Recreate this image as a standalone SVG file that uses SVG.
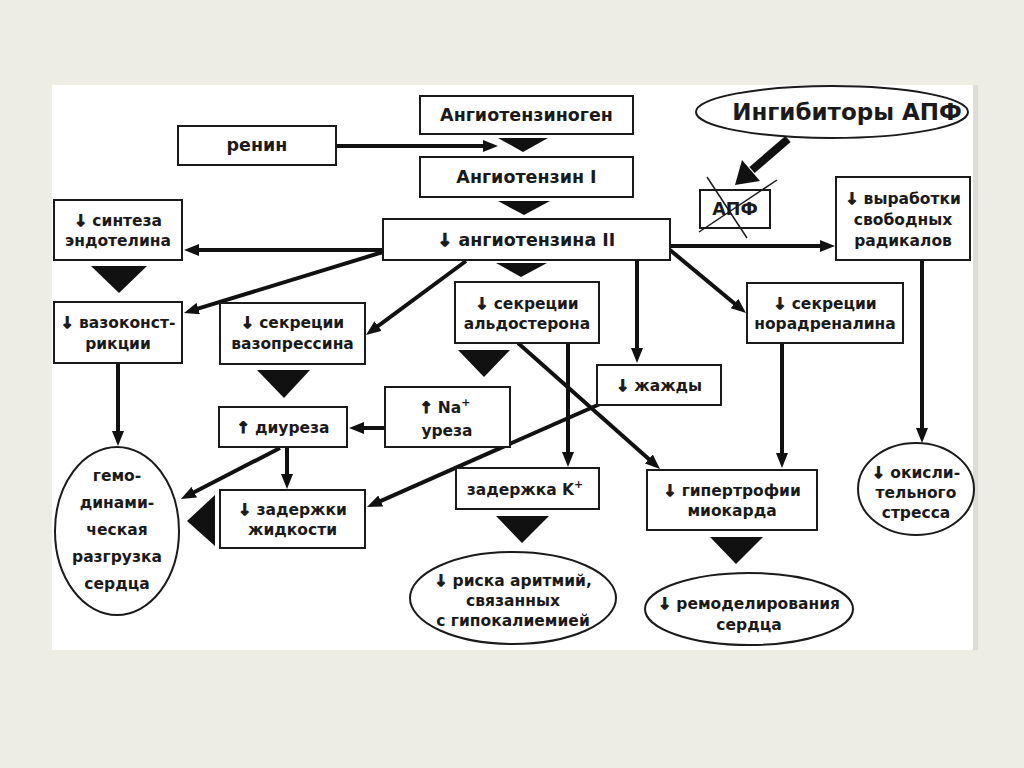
<svg xmlns="http://www.w3.org/2000/svg" width="1024" height="768" viewBox="0 0 1024 768">
<style>
.bx{fill:#fff;stroke:#1a1a1a;stroke-width:2}
.t{font-family:"DejaVu Sans","Liberation Sans",sans-serif;font-weight:bold;font-size:15.5px;fill:#1a1a1a;text-anchor:middle}
.tl{font-size:17.5px}
.big{font-size:23px}
.ar{stroke:#1a1a1a;stroke-width:1.2px}
.c{stroke:#111;stroke-width:4;fill:none;marker-end:url(#ah)}
.tri{fill:#111}
.sup{font-size:11px}
</style>
<defs>
<marker id="ah" markerUnits="userSpaceOnUse" markerWidth="15" markerHeight="12" viewBox="0 0 15 12" refX="9" refY="6" orient="auto">
<path d="M0,0 L15,6 L0,12 z" fill="#111"/>
</marker>
</defs>
<rect x="0" y="0" width="1024" height="768" fill="#eeede5"/>
<rect x="52" y="85" width="922" height="565" fill="#fff"/>
<rect x="973" y="85" width="5" height="565" fill="#dddcd6"/>

<g id="connectors">
<line class="c" x1="336" y1="146" x2="492" y2="146"/>
<line class="c" x1="383" y1="250" x2="190" y2="250"/>
<line class="c" x1="383" y1="252" x2="189.7" y2="311.2"/>
<line class="c" x1="466" y1="261" x2="370.8" y2="331.4"/>
<line class="c" x1="637" y1="260" x2="637" y2="357"/>
<line class="c" x1="670" y1="250" x2="741.4" y2="309.2"/>
<line class="c" x1="670" y1="246" x2="829" y2="246"/>
<line class="c" x1="922" y1="260" x2="922" y2="437"/>
<line class="c" x1="782" y1="343" x2="782" y2="462"/>
<line class="c" x1="568" y1="343" x2="568" y2="461"/>
<line class="c" x1="518" y1="343" x2="655.5" y2="465"/>
<line class="c" x1="600" y1="404" x2="372.5" y2="504.6"/>
<line class="c" x1="385" y1="428" x2="355" y2="428"/>
<line class="c" x1="287" y1="447" x2="287" y2="483"/>
<line class="c" x1="280" y1="448" x2="186.3" y2="496.3"/>
<line class="c" x1="118" y1="363" x2="118" y2="440"/>
<line x1="788" y1="139" x2="752" y2="170" stroke="#111" stroke-width="8"/>
<polygon class="tri" points="735,185 760,181 742,160"/>
<polygon class="tri" points="498,138 548,138 523,152"/>
<polygon class="tri" points="498,201 550,201 524,215"/>
<polygon class="tri" points="496,263 547,263 521,277"/>
<polygon class="tri" points="91,266 147,266 119,293"/>
<polygon class="tri" points="257,370 310,370 284,398"/>
<polygon class="tri" points="458,350 510,350 484,377"/>
<polygon class="tri" points="215,495 215,546 187,521"/>
<polygon class="tri" points="496,516 549,516 522,543"/>
<polygon class="tri" points="710,537 763,537 736,564"/>
</g>

<g id="angiotensinogen">
<rect class="bx" x="420" y="96" width="213" height="38"/>
<text class="t tl" x="526.5" y="121">Ангиотензиноген</text>
</g>
<g id="renin">
<rect class="bx" x="178" y="126" width="158" height="39"/>
<text class="t tl" x="257" y="151">ренин</text>
</g>
<g id="angiotensin1">
<rect class="bx" x="420" y="157" width="213" height="40"/>
<text class="t tl" x="526.5" y="183">Ангиотензин I</text>
</g>
<g id="angiotensin2">
<rect class="bx" x="383" y="219" width="287" height="41"/>
<text class="t tl" x="526.5" y="246"><tspan class="ar">↓</tspan> ангиотензина II</text>
</g>
<g id="inhibitors">
<ellipse cx="832" cy="112" rx="136" ry="26" fill="#fff" stroke="#1a1a1a" stroke-width="2"/>
<text class="t big" x="847" y="120">Ингибиторы АПФ</text>
</g>
<g id="apf">
<rect class="bx" x="700" y="190" width="70" height="38"/>
<text class="t tl" x="735" y="215">АПФ</text>
<line x1="707" y1="177" x2="747" y2="238" stroke="#1a1a1a" stroke-width="1.5"/>
<line x1="777" y1="180" x2="699" y2="232" stroke="#1a1a1a" stroke-width="1.5"/>
</g>
<g id="radicals">
<rect class="bx" x="836" y="177" width="134" height="83"/>
<text class="t" x="903" y="204"><tspan class="ar">↓</tspan> выработки</text>
<text class="t" x="903" y="225">свободных</text>
<text class="t" x="903" y="246">радикалов</text>
</g>
<g id="endothelin">
<rect class="bx" x="54" y="200" width="128" height="60"/>
<text class="t" x="118" y="226"><tspan class="ar">↓</tspan> синтеза</text>
<text class="t" x="118" y="246">эндотелина</text>
</g>
<g id="vasoconstriction">
<rect class="bx" x="54" y="302" width="128" height="61"/>
<text class="t" x="118" y="328"><tspan class="ar">↓</tspan> вазоконст-</text>
<text class="t" x="118" y="349">рикции</text>
</g>
<g id="vasopressin">
<rect class="bx" x="220" y="303" width="145" height="61"/>
<text class="t" x="292.5" y="328"><tspan class="ar">↓</tspan> секреции</text>
<text class="t" x="292.5" y="349">вазопрессина</text>
</g>
<g id="aldosterone">
<rect class="bx" x="455" y="282" width="144" height="61"/>
<text class="t" x="527" y="309"><tspan class="ar">↓</tspan> секреции</text>
<text class="t" x="527" y="329">альдостерона</text>
</g>
<g id="noradrenaline">
<rect class="bx" x="747" y="283" width="156" height="60"/>
<text class="t" x="825" y="309"><tspan class="ar">↓</tspan> секреции</text>
<text class="t" x="825" y="329">норадреналина</text>
</g>
<g id="thirst">
<rect class="bx" x="597" y="365" width="124" height="40"/>
<text class="t" x="659" y="391"><tspan class="ar">↓</tspan> жажды</text>
</g>
<g id="natriuresis">
<rect class="bx" x="385" y="387" width="125" height="60"/>
<text class="t" x="445" y="413"><tspan class="ar">↑</tspan> Na<tspan class="sup" dy="-7">+</tspan></text>
<text class="t" x="447" y="436">уреза</text>
</g>
<g id="diuresis">
<rect class="bx" x="219" y="407" width="128" height="40"/>
<text class="t" x="283" y="433"><tspan class="ar">↑</tspan> диуреза</text>
</g>
<g id="fluid">
<rect class="bx" x="220" y="490" width="145" height="58"/>
<text class="t" x="292.5" y="515"><tspan class="ar">↓</tspan> задержки</text>
<text class="t" x="292.5" y="535">жидкости</text>
</g>
<g id="hemodynamic">
<ellipse cx="117" cy="531" rx="62" ry="84" fill="#fff" stroke="#1a1a1a" stroke-width="2"/>
<text class="t" x="117" y="481">гемо-</text>
<text class="t" x="117" y="508">динами-</text>
<text class="t" x="117" y="535">ческая</text>
<text class="t" x="117" y="562">разгрузка</text>
<text class="t" x="117" y="589">сердца</text>
</g>
<g id="potassium">
<rect class="bx" x="456" y="468" width="143" height="41"/>
<text class="t" x="525" y="495">задержка K<tspan class="sup" dy="-7">+</tspan></text>
</g>
<g id="arrhythmia">
<ellipse cx="513" cy="598" rx="103" ry="46" fill="#fff" stroke="#1a1a1a" stroke-width="2"/>
<text class="t" x="513" y="586"><tspan class="ar">↓</tspan> риска аритмий,</text>
<text class="t" x="513" y="606">связанных</text>
<text class="t" x="513" y="626">с гипокалиемией</text>
</g>
<g id="hypertrophy">
<rect class="bx" x="647" y="470" width="170" height="60"/>
<text class="t" x="732" y="496"><tspan class="ar">↓</tspan> гипертрофии</text>
<text class="t" x="732" y="516">миокарда</text>
</g>
<g id="remodeling">
<ellipse cx="749" cy="609" rx="104" ry="36" fill="#fff" stroke="#1a1a1a" stroke-width="2"/>
<text class="t" x="749" y="609"><tspan class="ar">↓</tspan> ремоделирования</text>
<text class="t" x="749" y="630">сердца</text>
</g>
<g id="oxidative">
<ellipse cx="916" cy="489" rx="58" ry="46" fill="#fff" stroke="#1a1a1a" stroke-width="2"/>
<text class="t" x="916" y="478"><tspan class="ar">↓</tspan> окисли-</text>
<text class="t" x="916" y="498">тельного</text>
<text class="t" x="916" y="518">стресса</text>
</g>
</svg>
